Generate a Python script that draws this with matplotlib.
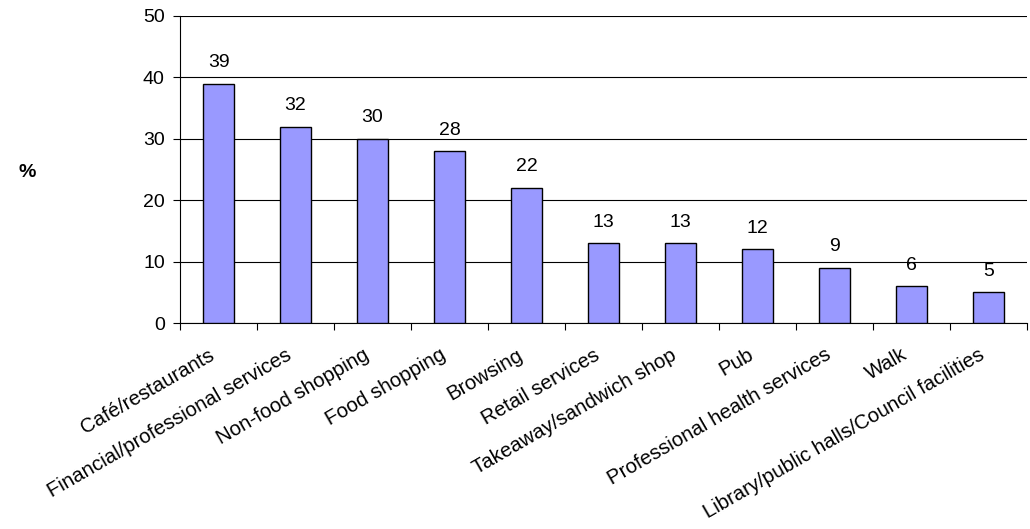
import matplotlib.pyplot as plt
import matplotlib.transforms as mtransforms
import numpy as np

plt.rcParams['font.family'] = ['Liberation Sans', 'DejaVu Sans']

categories = ['Café/restaurants', 'Financial/professional services', 'Non-food shopping',
              'Food shopping', 'Browsing', 'Retail services', 'Takeaway/sandwich shop',
              'Pub', 'Professional health services', 'Walk',
              'Library/public halls/Council facilities']
values = [39, 32, 30, 28, 22, 13, 13, 12, 9, 6, 5]
yticks = [0, 10, 20, 30, 40, 50]

fs = 14

fig = plt.figure(figsize=(10.3, 5.29), dpi=100)
ax = fig.add_axes([0.1748, 0.3894, 0.8222, 0.5804])

x = np.arange(len(categories))
ax.bar(x, values, width=0.41, color='#9999FF', edgecolor='black', linewidth=1, zorder=3)

for xi, v in zip(x, values):
    ax.annotate(str(v), (xi, v), xytext=(0, 9), textcoords='offset points',
                ha='center', va='bottom', fontsize=fs)

ax.set_xlim(-0.5, len(categories) - 0.5)
ax.set_ylim(0, 50)
ax.set_yticks(yticks)
ax.yaxis.grid(True, color='black', linewidth=0.8, zorder=0)
ax.tick_params(axis='y', labelsize=fs, length=5, width=0.8, pad=6)

# ticks sit between categories, labels at the centres
ax.set_xticks(np.arange(len(categories) + 1) - 0.5)
ax.set_xticklabels([])
ax.set_xticks(x, minor=True)
ax.set_xticklabels(categories, minor=True, rotation=30, ha='right',
                   va='top', rotation_mode='anchor', fontsize=14.7)
ax.tick_params(axis='x', which='minor', length=0, pad=16)
ax.tick_params(axis='x', which='major', length=5, width=0.8)

# nudge the slanted labels a little to the left
shift = mtransforms.ScaledTranslation(-0.1, 0, fig.dpi_scale_trans)
for lbl in ax.get_xticklabels(minor=True):
    lbl.set_transform(lbl.get_transform() + shift)

for side in ['top', 'right']:
    ax.spines[side].set_visible(False)
ax.spines['left'].set_linewidth(0.8)
ax.spines['bottom'].set_linewidth(0.8)

fig.text(0.026, 0.673, '%', fontsize=fs, fontweight='bold', ha='center', va='center')

fig.savefig('out.png', dpi=100)
